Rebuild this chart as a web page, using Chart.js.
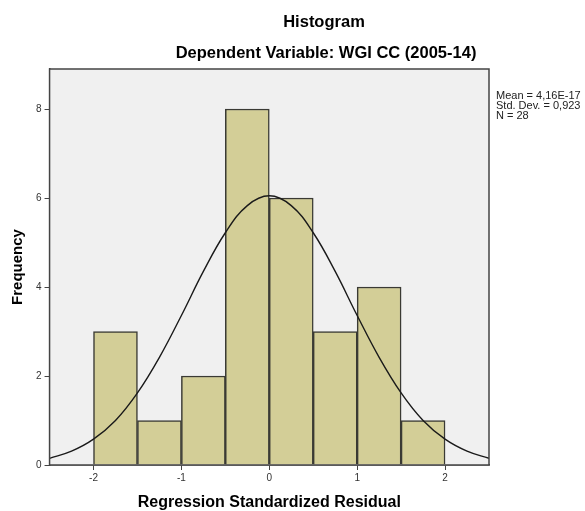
<!DOCTYPE html>
<html>
<head>
<meta charset="utf-8">
<script src="https://cdn.jsdelivr.net/npm/chart.js@4.4.1/dist/chart.umd.min.js"></script>
<style>
    html, body { margin: 0; padding: 0; background: #fff; }
    #wrap { width: 585px; height: 511px; }
</style>
</head>
<body>
<div id="wrap"><canvas id="histChart"></canvas></div>
<script>
// bins of width 0.5 (centres) and their counts
const binCentres = [-1.75, -1.25, -0.75, -0.25, 0.25, 0.75, 1.25, 1.75];
const binCounts = [3, 1, 2, 8, 6, 3, 4, 1];

// normal curve
const curveX = [-2.5, -2.25, -2, -1.75, -1.5, -1.25, -1, -0.75, -0.5, -0.25, 0,
                0.25, 0.5, 0.75, 1, 1.25, 1.5, 1.75, 2, 2.25, 2.5];
const curveY = [0.15, 0.31, 0.58, 1.0, 1.62, 2.42, 3.36, 4.35, 5.22, 5.83, 6.05,
                5.83, 5.22, 4.35, 3.36, 2.42, 1.62, 1.0, 0.58, 0.31, 0.15];

const xTicks = [-2, -1, 0, 1, 2];
const yTicks = [0, 2, 4, 6, 8];

const titleText = 'Histogram';
const subtitleText = 'Dependent Variable: WGI CC (2005-14)';
const statsLines = ['Mean = 4,16E-17', 'Std. Dev. = 0,923', 'N = 28'];

const frameColor = '#444';
const fontFam = '"Liberation Sans", Arial, sans-serif';

// grey plot background, full frame, titles and the stats note
const decorPlugin = {
    id: 'decor',
    beforeDatasetsDraw(chart) {
        const { ctx, chartArea: a } = chart;
        ctx.save();
        ctx.fillStyle = '#f0f0f0';
        ctx.fillRect(a.left, a.top, a.right - a.left, a.bottom - a.top);
        ctx.restore();
    },
    afterDraw(chart) {
        const { ctx, chartArea: a } = chart;
        ctx.save();
        ctx.strokeStyle = frameColor;
        ctx.lineWidth = 1.5;
        ctx.strokeRect(a.left, a.top, a.right - a.left, a.bottom - a.top);

        ctx.fillStyle = '#000';
        ctx.textAlign = 'center';
        ctx.textBaseline = 'middle';
        ctx.font = 'bold 16.5px ' + fontFam;
        ctx.fillText(titleText, 324, 22);
        ctx.fillText(subtitleText, 326, 53);

        ctx.textAlign = 'left';
        ctx.fillStyle = '#222';
        ctx.font = '11px ' + fontFam;
        statsLines.forEach((s, i) => ctx.fillText(s, a.right + 7, 96 + i * 10));
        ctx.restore();
    }
};

Chart.register(decorPlugin);

const ctx = document.querySelector('#histChart').getContext('2d');
new Chart(ctx, {
    type: 'bar',
    data: {
        datasets: [{
            type: 'line',
            label: 'Normal',
            data: curveX.map((x, i) => ({ x: x, y: curveY[i] })),
            borderColor: '#1a1a1a',
            borderWidth: 1.4,
            pointRadius: 0,
            fill: false,
            tension: 0.4,
            order: 0
        }, {
            type: 'bar',
            label: 'Frequency',
            data: binCentres.map((x, i) => ({ x: x, y: binCounts[i] })),
            backgroundColor: '#d3ce97',
            borderColor: '#3a3a34',
            borderWidth: 1.5,
            barPercentage: 1,
            categoryPercentage: 1,
            order: 1
        }]
    },
    options: {
        responsive: true,
        maintainAspectRatio: false,
        animation: false,
        layout: { padding: { left: 4, right: 96, top: 69, bottom: 0 } },
        plugins: {
            legend: { display: false },
            tooltip: { enabled: false },
            title: { display: false }
        },
        scales: {
            x: {
                type: 'linear',
                min: -2.5,
                max: 2.5,
                offset: false,
                afterBuildTicks: (axis) => { axis.ticks = xTicks.map(v => ({ value: v })); },
                grid: {
                    offset: false,
                    drawOnChartArea: false,
                    drawTicks: true,
                    tickLength: 5,
                    color: frameColor
                },
                border: { display: true, color: frameColor, width: 1.5 },
                ticks: {
                    color: '#333',
                    font: { family: fontFam, size: 10, lineHeight: 1 },
                    padding: 3,
                    maxRotation: 0
                },
                title: {
                    display: true,
                    text: 'Regression Standardized Residual',
                    color: '#000',
                    font: { family: fontFam, size: 16, weight: 'bold', lineHeight: 1 },
                    padding: { top: 9, bottom: 0 }
                }
            },
            y: {
                min: 0,
                max: 8.9,
                afterBuildTicks: (axis) => { axis.ticks = yTicks.map(v => ({ value: v })); },
                grid: {
                    drawOnChartArea: false,
                    drawTicks: true,
                    tickLength: 5,
                    color: frameColor
                },
                border: { display: true, color: frameColor, width: 1.5 },
                ticks: {
                    color: '#333',
                    font: { family: fontFam, size: 10 },
                    padding: 3
                },
                title: {
                    display: true,
                    text: 'Frequency',
                    color: '#000',
                    font: { family: fontFam, size: 15, weight: 'bold' },
                    padding: { top: 5, bottom: 6 }
                }
            }
        }
    }
});
</script>
</body>
</html>
